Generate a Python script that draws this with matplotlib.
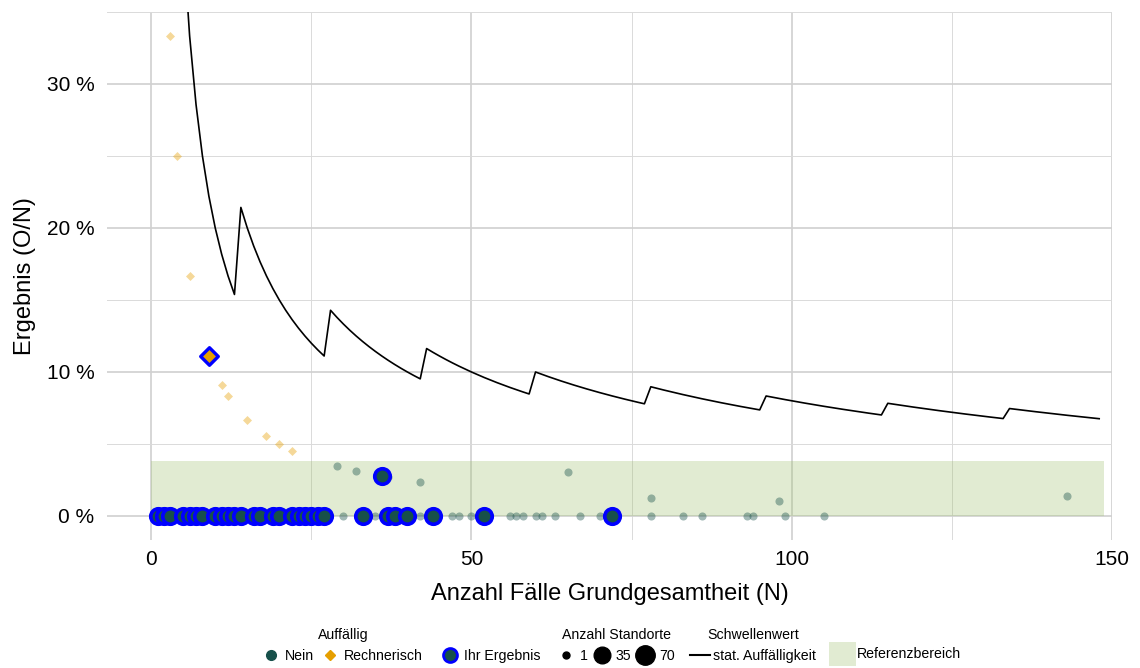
import matplotlib
matplotlib.use('Agg')
import matplotlib.pyplot as plt
import matplotlib.ticker as mticker
from matplotlib.lines import Line2D
from matplotlib.patches import Patch
import numpy as np

plt.rcParams['font.family'] = ['Liberation Sans', 'DejaVu Sans']

# Schwellenwert: kritische Anzahl O ab Grundgesamtheit N
schwelle_ab_n = [1, 14, 28, 43, 60, 78, 96, 115, 134]
schwelle_o = [2, 3, 4, 5, 6, 7, 8, 9, 10]
schwelle_n_max = 148

# Referenzbereich (Ergebnis in %)
ref_oben = 3.8
ref_n_max = 148.7

# Auffällig = Nein (alle Standorte)
nein_n = [29, 30, 32, 35, 37, 42, 42, 47, 48, 50, 56, 57, 58, 60, 61, 63, 65, 67, 70,
          78, 78, 83, 86, 93, 94, 98, 99, 105, 143]
nein_o = [1, 0, 1, 0, 1, 1, 0, 0, 0, 0, 0, 0, 0, 0, 0, 0, 2, 0, 0,
          1, 0, 0, 0, 0, 0, 1, 0, 0, 2]

# Auffällig = Rechnerisch
rech_n = [3, 4, 6, 11, 12, 15, 18, 20, 22]
rech_o = [1, 1, 1, 1, 1, 1, 1, 1, 1]

# Ihr Ergebnis
ihr_n = [1, 2, 3, 5, 6, 7, 8, 10, 11, 12, 13, 14, 16, 17, 19, 20, 22, 23, 24, 25,
         26, 27, 33, 36, 37, 38, 40, 44, 52, 72, 9]
ihr_o = [0, 0, 0, 0, 0, 0, 0, 0, 0, 0, 0, 0, 0, 0, 0, 0, 0, 0, 0, 0,
         0, 0, 0, 1, 0, 0, 0, 0, 0, 0, 1]
ihr_auff = ['Nein'] * 30 + ['Rechnerisch']

col_nein = '#17504a'
col_rech = '#e69f00'
col_ihr = '#0000ff'

fig = plt.figure(figsize=(11.4, 6.68), dpi=100)
ax = fig.add_axes([107 / 1140, 128 / 668, 1005 / 1140, 528 / 668])

# Schwellenwert-Linie
n_linie = np.arange(1, schwelle_n_max + 1)
idx = np.searchsorted(schwelle_ab_n, n_linie, side='right') - 1
rate_linie = np.array(schwelle_o)[idx] / n_linie * 100
ax.plot(n_linie, rate_linie, color='black', lw=1.2, zorder=3)

# Referenzbereich
ax.fill_between([0, ref_n_max], 0, ref_oben, color='#9dc06a', alpha=0.3, lw=0, zorder=2)

# Punkte
nein_rate = np.array(nein_o) / np.array(nein_n) * 100
rech_rate = np.array(rech_o) / np.array(rech_n) * 100
ax.scatter(nein_n, nein_rate, s=34, color=col_nein, alpha=0.4, lw=0, zorder=4)
ax.scatter(rech_n, rech_rate, s=21, marker='D', color=col_rech, alpha=0.4, lw=0, zorder=4)

ihr_n = np.array(ihr_n)
ihr_rate = np.array(ihr_o) / ihr_n * 100
ihr_auff = np.array(ihr_auff)
m = ihr_auff == 'Nein'
ax.scatter(ihr_n[m], ihr_rate[m], s=125, color=col_nein, edgecolor=col_ihr, lw=2.6, zorder=5)
m = ihr_auff == 'Rechnerisch'
ax.scatter(ihr_n[m], ihr_rate[m], s=80, marker='D', color=col_rech, edgecolor=col_ihr, lw=2.4, zorder=5)

ax.set_xlim(-6.9, 150)
ax.set_ylim(-1.667, 35)
ax.xaxis.set_major_locator(mticker.MultipleLocator(50))
ax.xaxis.set_minor_locator(mticker.MultipleLocator(25))
ax.yaxis.set_major_locator(mticker.MultipleLocator(10))
ax.yaxis.set_minor_locator(mticker.MultipleLocator(5))
ax.yaxis.set_major_formatter(mticker.FuncFormatter(lambda v, p: f'{v:.0f} %'))
ax.grid(which='major', color='#d0d0d0', lw=1.2, zorder=0)
ax.grid(which='minor', color='#dadada', lw=0.7, zorder=0)
ax.set_axisbelow(True)
for s in ax.spines.values():
    s.set_visible(False)
ax.tick_params(which='both', length=0, labelsize=15)
ax.tick_params(axis='x', pad=7)
ax.tick_params(axis='y', pad=9)
ax.set_xlabel('Anzahl Fälle Grundgesamtheit (N)', fontsize=17, labelpad=10)
ax.set_ylabel('Ergebnis (O/N)', fontsize=17, labelpad=8)

# Legenden
leg_kw = dict(frameon=False, fontsize=10.2, title_fontsize=10.2, borderpad=0, borderaxespad=0,
              handlelength=1.0, handletextpad=0.5, columnspacing=0.6, loc='upper left')
top = 1 - 628 / 668

h1 = [Line2D([], [], ls='', marker='o', ms=7, color=col_nein),
      Line2D([], [], ls='', marker='D', ms=5, color=col_rech)]
l1 = fig.legend(h1, ['Nein', 'Rechnerisch'], title='Auffällig', ncol=2,
                bbox_to_anchor=(264 / 1140, top), **leg_kw)
h2 = [Line2D([], [], ls='', marker='o', ms=10, color=col_nein, mec=col_ihr, mew=2)]
l2 = fig.legend(h2, ['Ihr Ergebnis'], title=' ', bbox_to_anchor=(443 / 1140, top), **leg_kw)
h3 = [Line2D([], [], ls='', marker='o', ms=s_, color='black') for s_ in (5, 12, 14)]
l3 = fig.legend(h3, ['1', '35', '70'], title='Anzahl Standorte', ncol=3,
                bbox_to_anchor=(559 / 1140, top), **dict(leg_kw, columnspacing=0.45))
h4 = [Line2D([], [], color='black', lw=1.5)]
l4 = fig.legend(h4, ['stat. Auffälligkeit'], title='Schwellenwert',
                bbox_to_anchor=(690 / 1140, top), **dict(leg_kw, handlelength=1.4, handletextpad=0.2))
h5 = [Patch(color='#9dc06a', alpha=0.3, lw=0)]
l5 = fig.legend(h5, ['Referenzbereich'],
                bbox_to_anchor=(829 / 1140, 1 - 642 / 668),
                **dict(leg_kw, handlelength=1.9, handleheight=2.2, handletextpad=0.1))

fig.savefig('out.png', dpi=100)
